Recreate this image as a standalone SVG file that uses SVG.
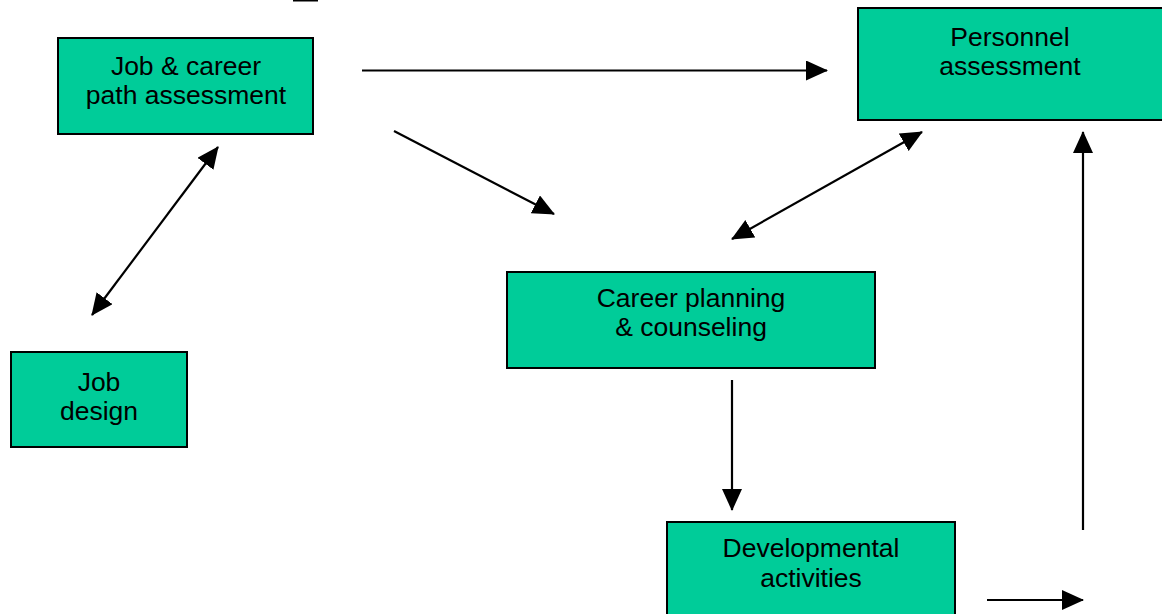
<svg xmlns="http://www.w3.org/2000/svg" width="1162" height="614" viewBox="0 0 1162 614">
<defs>
<style>
.box{fill:#00CC99;stroke:#000;stroke-width:2}
.lbl{font-family:"Liberation Sans",Arial,sans-serif;font-size:26.5px;fill:#000;text-anchor:middle}
.ln{stroke:#000;stroke-width:2.2;fill:none}
</style>
<marker id="ah" markerUnits="userSpaceOnUse" markerWidth="22" markerHeight="20" viewBox="0 0 22 20" refX="21" refY="10" orient="auto-start-reverse">
<path d="M0,0 L22,10 L0,20 z" fill="#000"/>
</marker>
</defs>
<rect width="1162" height="614" fill="#fff"/>
<rect x="293" y="0" width="25" height="1.5" fill="#000"/>
<g id="job-career">
<rect class="box" x="58" y="38" width="255" height="96"/>
<text class="lbl" x="186" y="75">Job &amp; career</text>
<text class="lbl" x="186" y="104">path assessment</text>
</g>
<g id="personnel">
<rect class="box" x="858" y="8" width="306" height="112"/>
<text class="lbl" x="1010" y="46">Personnel</text>
<text class="lbl" x="1010" y="75">assessment</text>
</g>
<g id="career-planning">
<rect class="box" x="507" y="272" width="368" height="96"/>
<text class="lbl" x="691" y="307">Career planning</text>
<text class="lbl" x="691" y="336">&amp; counseling</text>
</g>
<g id="job-design">
<rect class="box" x="11" y="352" width="176" height="95"/>
<text class="lbl" x="99" y="391">Job</text>
<text class="lbl" x="99" y="420">design</text>
</g>
<g id="developmental">
<rect class="box" x="667" y="522" width="288" height="100"/>
<text class="lbl" x="811" y="557">Developmental</text>
<text class="lbl" x="811" y="587">activities</text>
</g>
<g id="connectors">
<line class="ln" x1="362" y1="70.5" x2="827" y2="70.5" marker-end="url(#ah)"/>
<line class="ln" x1="394" y1="131" x2="554" y2="214" marker-end="url(#ah)"/>
<line class="ln" x1="732" y1="239" x2="922" y2="132" marker-start="url(#ah)" marker-end="url(#ah)"/>
<line class="ln" x1="92" y1="315" x2="218" y2="147" marker-start="url(#ah)" marker-end="url(#ah)"/>
<line class="ln" x1="732" y1="380" x2="732" y2="510" marker-end="url(#ah)"/>
<line class="ln" x1="1083" y1="530" x2="1083" y2="132" marker-end="url(#ah)"/>
<line class="ln" x1="987" y1="600" x2="1083" y2="600" marker-end="url(#ah)"/>
</g>
</svg>
